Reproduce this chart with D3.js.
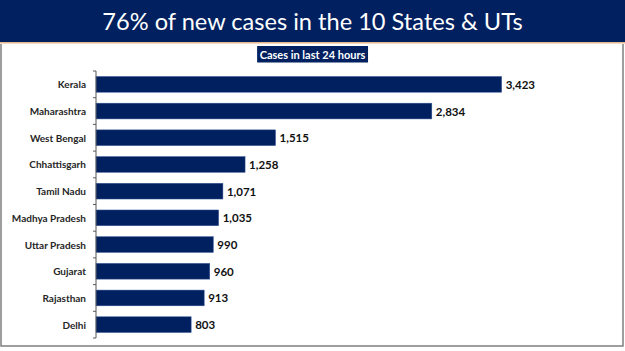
<!DOCTYPE html>
<html>
<head>
<meta charset="utf-8">
<script src="https://cdn.jsdelivr.net/npm/d3@7"></script>
<style>
  html, body { margin: 0; padding: 0; background: #fff; }
  svg { display: block; }
</style>
</head>
<body>
<svg id="chart"></svg>
<script>
const states = ['Kerala', 'Maharashtra', 'West Bengal', 'Chhattisgarh', 'Tamil Nadu',
    'Madhya Pradesh', 'Uttar Pradesh', 'Gujarat', 'Rajasthan', 'Delhi'];
const cases = [3423, 2834, 1515, 1258, 1071, 1035, 990, 960, 913, 803];

const titleText = '76% of new cases in the 10 States & UTs';
const subtitleText = 'Cases in last 24 hours';

const WIDTH = 625;
const HEIGHT = 351;
const navy = '#002060';
const font = 'Lato, "Open Sans", sans-serif';

const svg = d3.select('#chart')
    .attr('width', WIDTH)
    .attr('height', HEIGHT);

// header band
svg.append('rect')
    .attr('x', 0).attr('y', 0)
    .attr('width', WIDTH).attr('height', 42)
    .attr('fill', navy);
svg.append('rect')
    .attr('x', 0).attr('y', 42)
    .attr('width', WIDTH).attr('height', 1.5)
    .attr('fill', '#e8b88c');

svg.append('text')
    .attr('x', 312.5)
    .attr('y', 29.5)
    .attr('text-anchor', 'middle')
    .style('fill', '#fff')
    .style('font-family', font)
    .style('font-size', '23.6px')
    .text(titleText);

// frame
svg.append('path')
    .attr('d', `M1,44 V346 H623 V44`)
    .attr('fill', 'none')
    .attr('stroke', '#7f7f7f')
    .attr('stroke-width', 1.5);

// subtitle box
const sub = svg.append('g');
const subText = sub.append('text')
    .attr('x', 312.5)
    .attr('y', 58.5)
    .attr('text-anchor', 'middle')
    .style('fill', '#fff')
    .style('font-family', font)
    .style('font-weight', 'bold')
    .style('font-size', '11px')
    .text(subtitleText);
const bb = subText.node().getBBox();
sub.insert('rect', 'text')
    .attr('x', bb.x - 2.5).attr('y', 46)
    .attr('width', bb.width + 5).attr('height', 16.5)
    .attr('fill', navy);

const x = d3.scaleLinear()
    .domain([0, 4000])
    .range([96, 570]);

const y = d3.scaleBand()
    .domain(states)
    .range([71, 338])
    .paddingInner(0.41)
    .paddingOuter(0.205);

const g = svg.append('g');

g.selectAll('rect.bar')
    .data(states)
    .join('rect')
    .attr('class', 'bar')
    .attr('x', x(0))
    .attr('y', d => y(d))
    .attr('width', (d, i) => x(cases[i]) - x(0))
    .attr('height', y.bandwidth())
    .attr('fill', navy)
    .attr('stroke', '#3a5a9a')
    .attr('stroke-width', 0.5);

g.selectAll('text.value')
    .data(states)
    .join('text')
    .attr('class', 'value')
    .attr('x', (d, i) => x(cases[i]) + 4)
    .attr('y', d => y(d) + y.bandwidth() / 2)
    .attr('dominant-baseline', 'central')
    .style('font-family', font)
    .style('font-weight', 'bold')
    .style('font-size', '11.5px')
    .style('fill', '#111')
    .text((d, i) => d3.format(',')(cases[i]));

// category axis with ticks between bands
const axisG = svg.append('g');
axisG.append('line')
    .attr('x1', x(0)).attr('x2', x(0))
    .attr('y1', y.range()[0]).attr('y2', y.range()[1])
    .attr('stroke', '#595959')
    .attr('stroke-width', 1);

const step = y.step();
const boundaries = d3.range(states.length + 1).map(i => y.range()[0] + i * step);
axisG.selectAll('line.tick')
    .data(boundaries)
    .join('line')
    .attr('class', 'tick')
    .attr('x1', x(0) - 3).attr('x2', x(0))
    .attr('y1', d => d).attr('y2', d => d)
    .attr('stroke', '#595959');

axisG.selectAll('text.cat')
    .data(states)
    .join('text')
    .attr('class', 'cat')
    .attr('x', 86)
    .attr('y', d => y(d) + y.bandwidth() / 2)
    .attr('text-anchor', 'end')
    .attr('dominant-baseline', 'central')
    .style('font-family', font)
    .style('font-weight', 'bold')
    .style('font-size', '10px')
    .style('fill', '#262626')
    .text(d => d);
</script>
</body>
</html>
